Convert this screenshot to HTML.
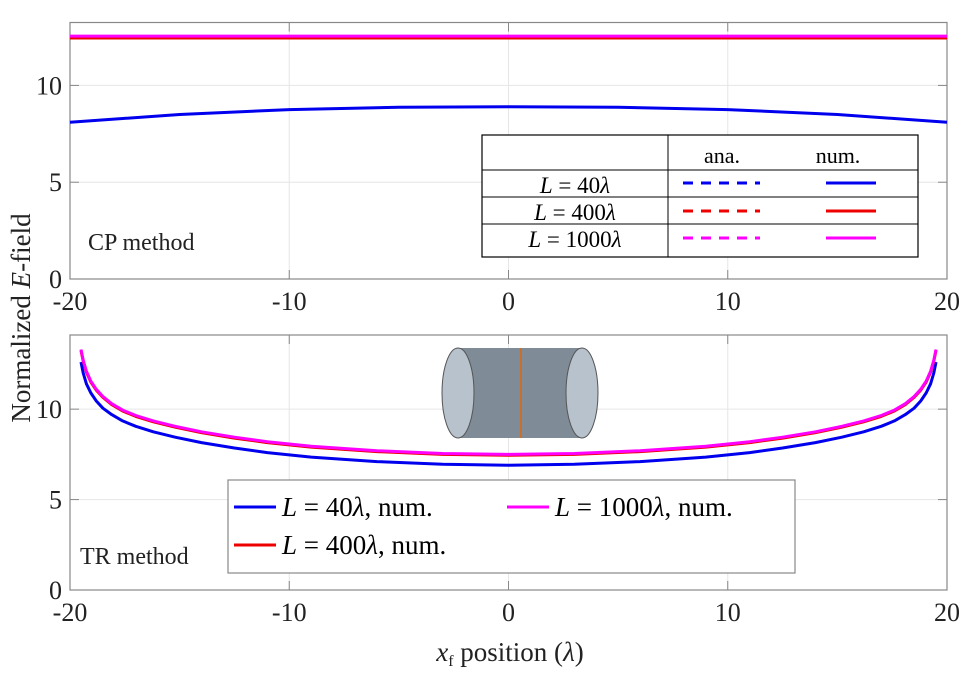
<!DOCTYPE html>
<html><head><meta charset="utf-8"><style>
body{margin:0;background:#fff;}
svg{font-family:"Liberation Serif",serif;}
</style></head><body>
<svg id="c" width="966" height="675" viewBox="0 0 966 675" xmlns="http://www.w3.org/2000/svg"></svg>
<script>
const xTicks=[-20,-10,0,10,20];
const yTicks=[0,5,10];
const topX=[-20,-15,-10,-5,0,5,10,15,20];
const topBlue=[8.1,8.5,8.75,8.87,8.9,8.87,8.75,8.5,8.1];
const topRed=[12.45,12.45,12.45,12.45,12.45,12.45,12.45,12.45,12.45];
const topMag=[12.55,12.55,12.55,12.55,12.55,12.55,12.55,12.55,12.55];
const botX=[-19.5,-19.4,-19.25,-19.05,-18.8,-18.5,-18.1,-17.6,-17,-16.2,-15.2,-14,-12.5,-11,-9,-6,-3,0,3,6,9,11,12.5,14,15.2,16.2,17,17.6,18.1,18.5,18.8,19.05,19.25,19.4,19.5];
const botBlue=[12.6,12.0,11.4,10.9,10.45,10.05,9.7,9.35,9.05,8.75,8.45,8.15,7.85,7.6,7.35,7.1,6.95,6.9,6.95,7.1,7.35,7.6,7.85,8.15,8.45,8.75,9.05,9.35,9.7,10.05,10.45,10.9,11.4,12.0,12.6];
const botRed=[13.25,12.65,12.05,11.5,11.05,10.65,10.25,9.9,9.6,9.3,9.0,8.7,8.4,8.15,7.9,7.65,7.5,7.45,7.5,7.65,7.9,8.15,8.4,8.7,9.0,9.3,9.6,9.9,10.25,10.65,11.05,11.5,12.05,12.65,13.25];
const botMag=[13.3,12.7,12.1,11.55,11.1,10.7,10.3,9.95,9.65,9.35,9.05,8.75,8.45,8.2,7.95,7.7,7.55,7.5,7.55,7.7,7.95,8.2,8.45,8.75,9.05,9.35,9.65,9.95,10.3,10.7,11.1,11.55,12.1,12.7,13.3];

const svg=document.getElementById('c');
const NS='http://www.w3.org/2000/svg';
function mk(t,a,p){const e=document.createElementNS(NS,t);for(const k in a)e.setAttribute(k,a[k]);(p||svg).appendChild(e);return e;}
const X0=70,X1=947;
const sx=v=>X0+(v+20)/40*(X1-X0);
const panels=[{top:22.5,bot:279,ymax:13.25,name:'cp'},{top:335,bot:590,ymax:14.1,name:'tr'}];
panels.forEach(p=>{p.sy=v=>p.bot-v/p.ymax*(p.bot-p.top);});

panels.forEach((p,pi)=>{
  const g=mk('g',{});
  
  
  xTicks.forEach(t=>{
    const l=mk('line',{x1:sx(t),x2:sx(t),y1:p.top,y2:p.bot,stroke:'#e6e6e6','stroke-width':1},g);
    
    mk('line',{x1:sx(t),x2:sx(t),y1:p.bot,y2:p.bot-9,stroke:'#888'},g);
    mk('line',{x1:sx(t),x2:sx(t),y1:p.top,y2:p.top+9,stroke:'#888'},g);
    const tx=mk('text',{x:sx(t),y:p.bot+31,'text-anchor':'middle','font-size':26,fill:'#222'},g);
    tx.textContent=t;
  });
  yTicks.forEach(t=>{
    mk('line',{x1:X0,x2:X1,y1:p.sy(t),y2:p.sy(t),stroke:'#e6e6e6'},g);
    mk('line',{x1:X0,x2:X0+9,y1:p.sy(t),y2:p.sy(t),stroke:'#888'},g);
    mk('line',{x1:X1,x2:X1-9,y1:p.sy(t),y2:p.sy(t),stroke:'#888'},g);
    const tx=mk('text',{x:X0-8,y:p.sy(t)+9,'text-anchor':'end','font-size':26,fill:'#222'},g);
    tx.textContent=t;
  });
  mk('rect',{x:X0,y:p.top,width:X1-X0,height:p.bot-p.top,fill:'none',stroke:'#888','stroke-width':1.2},g);
});

function line(xs,ys,p,color,name,w){
  const d=xs.map((x,i)=>(i?'L':'M')+sx(x).toFixed(1)+','+p.sy(ys[i]).toFixed(1)).join(' ');
  const e=mk('path',{d:d,fill:'none',stroke:color,'stroke-width':w||3,'stroke-linejoin':'round'});
  
}
const P0=panels[0],P1=panels[1];
line(topX,topBlue,P0,'#0000ee','cp-blue-L40');
line(topX,topRed,P0,'#ee0000','cp-red-L400');
line(topX,topMag,P0,'#ff00ff','cp-magenta-L1000');
line(botX,botBlue,P1,'#0000ee','tr-blue-L40');
line(botX,botRed,P1,'#ee0000','tr-red-L400');
line(botX,botMag,P1,'#ff00ff','tr-magenta-L1000');
</script>
<svg width="966" height="675" style="position:absolute;left:0;top:0" xmlns="http://www.w3.org/2000/svg" font-family="Liberation Serif,serif">
 <g>
  <rect x="458" y="348" width="124" height="90" fill="#7f8b96"/>
  <ellipse cx="458" cy="393" rx="16" ry="45" fill="#b7c2cc" stroke="#555"/>
  <ellipse cx="582" cy="393" rx="16" ry="45" fill="#b7c2cc" stroke="#555"/>
  <line x1="521" y1="348" x2="521" y2="438" stroke="#c8702e" stroke-width="2"/>
 </g>
 <text x="88" y="250" font-size="24" fill="#222">CP method</text>
 <text x="80" y="564" font-size="24" fill="#222">TR method</text>
 <g>
  <rect x="482" y="135" width="436" height="122" fill="#fff" stroke="#000" stroke-width="1.2"/>
  <line x1="668" y1="135" x2="668" y2="257" stroke="#000"/>
  <line x1="482" y1="170" x2="918" y2="170" stroke="#000"/>
  <line x1="482" y1="197" x2="918" y2="197" stroke="#000"/>
  <line x1="482" y1="224" x2="918" y2="224" stroke="#000"/>
  <text x="722" y="163" font-size="22" text-anchor="middle">ana.</text>
  <text x="838" y="163" font-size="22" text-anchor="middle">num.</text>
  <text x="575" y="193" font-size="23" text-anchor="middle"><tspan font-style="italic">L</tspan> = 40<tspan font-style="italic">λ</tspan></text>
  <text x="575" y="220" font-size="23" text-anchor="middle"><tspan font-style="italic">L</tspan> = 400<tspan font-style="italic">λ</tspan></text>
  <text x="575" y="247" font-size="23" text-anchor="middle"><tspan font-style="italic">L</tspan> = 1000<tspan font-style="italic">λ</tspan></text>
  <line x1="683" y1="183" x2="760" y2="183" stroke="#0000ee" stroke-width="3" stroke-dasharray="10,8"/>
  <line x1="683" y1="211" x2="760" y2="211" stroke="#ee0000" stroke-width="3" stroke-dasharray="10,8"/>
  <line x1="683" y1="238" x2="760" y2="238" stroke="#ff00ff" stroke-width="3" stroke-dasharray="10,8"/>
  <line x1="826" y1="183" x2="876" y2="183" stroke="#0000ee" stroke-width="3"/>
  <line x1="826" y1="211" x2="876" y2="211" stroke="#ee0000" stroke-width="3"/>
  <line x1="826" y1="238" x2="876" y2="238" stroke="#ff00ff" stroke-width="3"/>
 </g>
 <g>
  <rect x="228" y="480" width="567" height="93" fill="#fff" stroke="#888" stroke-width="1.2"/>
  <line x1="234" y1="507" x2="276" y2="507" stroke="#0000ee" stroke-width="3"/>
  <text x="282" y="516" font-size="27"><tspan font-style="italic">L</tspan> = 40<tspan font-style="italic">λ</tspan>, num.</text>
  <line x1="507" y1="507" x2="549" y2="507" stroke="#ff00ff" stroke-width="3"/>
  <text x="555" y="516" font-size="27"><tspan font-style="italic">L</tspan> = 1000<tspan font-style="italic">λ</tspan>, num.</text>
  <line x1="234" y1="545" x2="276" y2="545" stroke="#ee0000" stroke-width="3"/>
  <text x="282" y="554" font-size="27"><tspan font-style="italic">L</tspan> = 400<tspan font-style="italic">λ</tspan>, num.</text>
 </g>
 <text transform="translate(30,318) rotate(-90)" font-size="27" text-anchor="middle" fill="#222">Normalized <tspan font-style="italic">E</tspan>-field</text>
 <text x="510" y="661" font-size="27" text-anchor="middle" fill="#222"><tspan font-style="italic">x</tspan><tspan font-size="16" dy="5">f</tspan><tspan dy="-5"> position (</tspan><tspan font-style="italic">λ</tspan>)</text>
</svg>
</body></html>
